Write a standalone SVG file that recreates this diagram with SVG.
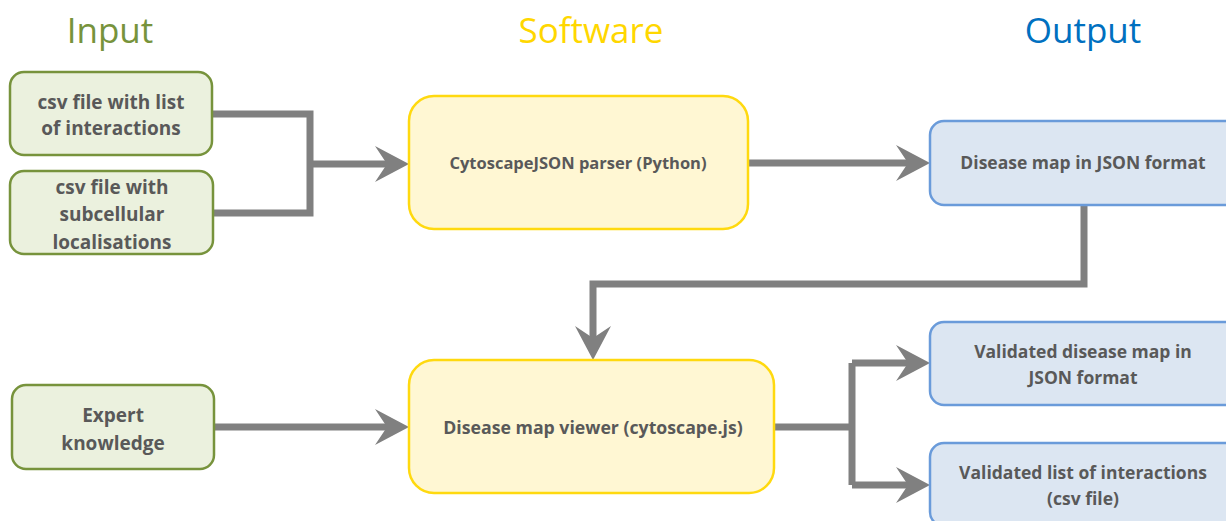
<svg xmlns="http://www.w3.org/2000/svg" width="1226" height="521" viewBox="0 0 1226 521">
  <style>
    .head { font-family: "Open Sans", "Noto Sans", sans-serif; font-size: 35px; text-anchor: middle; }
    .lbl { font-family: "Open Sans", "Noto Sans", sans-serif; font-weight: 700; fill: #595959; stroke: none; text-anchor: middle; }
    .in rect { fill: #EBF1DE; stroke: #77933C; stroke-width: 2.5; }
    .sw rect { fill: #FFF7D3; stroke: #FFD90F; stroke-width: 2.5; }
    .out rect { fill: #DCE6F2; stroke: #6A9BDA; stroke-width: 2.5; }
    .in text { font-size: 19px; }
    .sw text { font-size: 16.5px; }
    #sw2 text { font-size: 17.7px; }
    .out text { font-size: 17.5px; }
    .conn path { fill: none; stroke: #808080; stroke-width: 7; stroke-linejoin: miter; }
  </style>
  <defs>
    <marker id="arr" markerUnits="userSpaceOnUse" viewBox="-35 -19 36 38" markerWidth="36" markerHeight="38" refX="-20" refY="0" orient="auto">
      <path d="M0,0 L-34,-18 L-22,0 L-34,18 Z" fill="#808080" stroke="none"/>
    </marker>
  </defs>

  <text class="head" x="110" y="43" fill="#77933C">Input</text>
  <text class="head" x="591" y="43" fill="#FFD700">Software</text>
  <text class="head" x="1083" y="43" fill="#0070C0">Output</text>

  <g class="conn" id="connectors">
    <path d="M212,114 H310 V213 H214"/>
    <path d="M310,164 H389" marker-end="url(#arr)"/>
    <path d="M748,163 H910" marker-end="url(#arr)"/>
    <path d="M1084,205 V284 H593 V340" marker-end="url(#arr)"/>
    <path d="M214,427 H389" marker-end="url(#arr)"/>
    <path d="M774,427 H852"/>
    <path d="M852,363 V485"/>
    <path d="M852,363 H910" marker-end="url(#arr)"/>
    <path d="M852,485 H910" marker-end="url(#arr)"/>
  </g>

  <g id="in1" class="in">
    <rect x="10" y="72" width="202" height="83" rx="14"/>
    <text class="lbl" x="111" y="109">csv file with list</text>
    <text class="lbl" x="111" y="135">of interactions</text>
  </g>
  <g id="in2" class="in">
    <rect x="10" y="171" width="203" height="83" rx="14"/>
    <text class="lbl" x="112" y="194">csv file with</text>
    <text class="lbl" x="112" y="221">subcellular</text>
    <text class="lbl" x="112" y="249">localisations</text>
  </g>
  <g id="in3" class="in">
    <rect x="12" y="385" width="202" height="84" rx="14"/>
    <text class="lbl" x="113" y="422">Expert</text>
    <text class="lbl" x="113" y="450">knowledge</text>
  </g>

  <g id="sw1" class="sw">
    <rect x="409" y="96" width="339" height="133" rx="25"/>
    <text class="lbl" x="578" y="169">CytoscapeJSON parser (Python)</text>
  </g>
  <g id="sw2" class="sw">
    <rect x="409" y="360" width="365" height="133" rx="25"/>
    <text class="lbl" x="593" y="434">Disease map viewer (cytoscape.js)</text>
  </g>

  <g id="out1" class="out">
    <rect x="930" y="121" width="310" height="84" rx="14"/>
    <text class="lbl" x="1083" y="169">Disease map in JSON format</text>
  </g>
  <g id="out2" class="out">
    <rect x="930" y="322" width="310" height="83" rx="14"/>
    <text class="lbl" x="1083" y="358">Validated disease map in</text>
    <text class="lbl" x="1083" y="384">JSON format</text>
  </g>
  <g id="out3" class="out">
    <rect x="930" y="443" width="310" height="83" rx="14"/>
    <text class="lbl" x="1083" y="479">Validated list of interactions</text>
    <text class="lbl" x="1083" y="505">(csv file)</text>
  </g>
</svg>
